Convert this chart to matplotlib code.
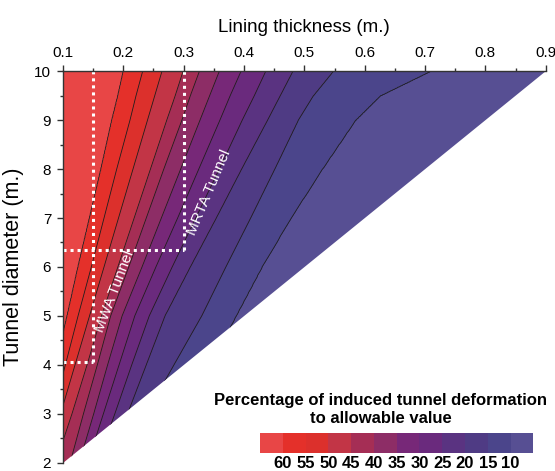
import numpy as np
import matplotlib
matplotlib.use("Agg")
import matplotlib.pyplot as plt
from matplotlib.patches import Polygon
from matplotlib.ticker import MultipleLocator

plt.rcParams['font.family'] = ['Liberation Sans', 'DejaVu Sans']

# contour levels (percentage of induced tunnel deformation to allowable value)
levels = [60, 55, 50, 45, 40, 35, 30, 25, 20, 15, 10]
# tunnel diameter rows at which the contour positions were read
row_y = [2, 3, 4, 5, 6, 7, 8, 9, 9.5, 10]
# lining thickness where each contour crosses each row (values beyond the
# triangular domain are read-off extensions of the lines)
x_60 = [0.051, 0.070, 0.088, 0.107, 0.125, 0.144, 0.163, 0.181, 0.191, 0.200]
x_55 = [0.061, 0.083, 0.104, 0.125, 0.147, 0.168, 0.189, 0.211, 0.221, 0.232]
x_50 = [0.071, 0.096, 0.120, 0.144, 0.168, 0.192, 0.216, 0.240, 0.252, 0.264]
x_45 = [0.088, 0.115, 0.140, 0.164, 0.191, 0.218, 0.245, 0.272, 0.286, 0.299]
x_40 = [0.112, 0.134, 0.157, 0.179, 0.209, 0.238, 0.267, 0.297, 0.311, 0.326]
x_35 = [0.127, 0.151, 0.174, 0.198, 0.231, 0.263, 0.295, 0.327, 0.343, 0.359]
x_30 = [0.141, 0.167, 0.193, 0.219, 0.254, 0.290, 0.325, 0.360, 0.377, 0.395]
x_25 = [0.157, 0.186, 0.214, 0.243, 0.281, 0.320, 0.359, 0.397, 0.417, 0.436]
x_20 = [0.176, 0.207, 0.238, 0.269, 0.311, 0.354, 0.396, 0.439, 0.460, 0.481]
x_15 = [0.190, 0.238, 0.284, 0.330, 0.370, 0.411, 0.451, 0.490, 0.515, 0.548]
x_10 = [0.260, 0.300, 0.345, 0.387, 0.430, 0.478, 0.530, 0.585, 0.626, 0.709]
crossings = [x_60, x_55, x_50, x_45, x_40, x_35, x_30, x_25, x_20, x_15, x_10]

# band colours from lowest (<10) to highest (>60)
band_colors = ['#574F93', '#4B458B', '#4F3B84', '#5A3381', '#6A2A7D', '#772878',
               '#8D2D66', '#A52E55', '#C23546', '#DC302C', '#E4302A', '#E84646']
bounds = [0, 10, 15, 20, 25, 30, 35, 40, 45, 50, 55, 60, 100]

# tunnel cases (lining thickness, diameter)
mwa = (0.15, 4.05)
mrta = (0.30, 6.35)

# ---- build field from the read contour positions ----
yf = np.linspace(2, 10, 321)
xf = np.linspace(0.1, 0.9, 641)
cross = np.array([np.interp(yf, row_y, xs) for xs in crossings])
Z = np.empty((yf.size, xf.size))
for j in range(yf.size):
    Z[j] = np.interp(xf, np.r_[-0.2, cross[:, j], 1.6], np.r_[70, levels, 0])

fig = plt.figure(figsize=(5.55, 4.71), dpi=100)
ax = fig.add_axes([0.1135, 0.018, 0.8697, 0.8306])

tri = Polygon([(0.1, 2), (0.1, 10), (0.9, 10)], closed=True, transform=ax.transData,
              facecolor='none', edgecolor='none')
ax.add_patch(tri)
cf = ax.contourf(xf, yf, Z, levels=bounds, colors=band_colors)
cf.set_clip_path(tri)
cl = ax.contour(xf, yf, Z, levels=sorted(levels), colors='#1e1e1e', linewidths=0.6)
cl.set_clip_path(tri)

# tunnel guide lines
dot = dict(color='white', lw=2.2, ls=(0, (1, 1.3)), solid_capstyle='butt')
for (t, d) in (mwa, mrta):
    ax.plot([t, t], [d, 10], **dot)
    ax.plot([0.1, t], [d, d], **dot)

ax.text(0.186, 5.5, 'MWA Tunnel', color='white', fontsize=11, rotation=69,
        ha='center', va='center')
ax.text(0.342, 7.52, 'MRTA Tunnel', color='white', fontsize=11, rotation=67,
        ha='center', va='center')

ax.set_xlim(0.1, 0.9)
ax.set_ylim(2, 10)
ax.xaxis.tick_top()
ax.xaxis.set_label_position('top')
ax.xaxis.set_minor_locator(MultipleLocator(0.05))
ax.yaxis.set_major_locator(MultipleLocator(1))
ax.yaxis.set_minor_locator(MultipleLocator(0.5))
ax.set_xticks(np.round(np.arange(0.1, 0.91, 0.1), 1))
ax.set_xticklabels([f'{v:.1f}' for v in np.arange(0.1, 0.91, 0.1)])
ax.tick_params(which='major', direction='out', length=4.5, width=1.0, labelsize=11,
               color='#333333', pad=4)
ax.tick_params(which='minor', direction='out', length=2.5, width=1.0, color='#333333')
for s in ('right', 'bottom'):
    ax.spines[s].set_visible(False)
for s in ('left', 'top'):
    ax.spines[s].set_color('#333333')
    ax.spines[s].set_linewidth(1.0)
ax.set_xlabel('Lining thickness (m.)', fontsize=13.5, labelpad=10)
ax.set_ylabel('Tunnel diameter (m.)', fontsize=15.5, labelpad=7)

# colour legend
cax = fig.add_axes([0.4685, 0.0376, 0.4924, 0.0425])
cb = fig.colorbar(cf, cax=cax, orientation='horizontal', spacing='uniform',
                  ticks=sorted(levels))
cax.invert_xaxis()
cb.outline.set_visible(False)
cax.tick_params(length=0, labelsize=12, pad=2)
for lab in cax.get_xticklabels():
    lab.set_fontweight('bold')
fig.text(0.686, 0.131, 'Percentage of induced tunnel deformation\nto allowable value',
         ha='center', va='center', fontsize=12, fontweight='bold', linespacing=1.25)

fig.savefig('out.png', dpi=100)
